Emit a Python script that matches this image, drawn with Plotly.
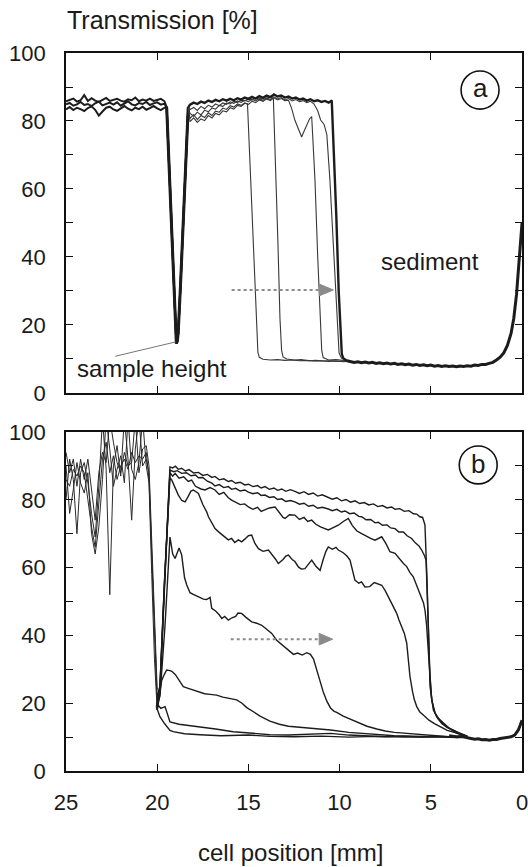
import plotly.graph_objects as go

# ---------------- Panel (a) data ----------------
PA_PLATEAU_X = [25.0, 24.8, 24.6, 24.4, 24.2, 24.0, 23.8, 23.6, 23.4, 23.2, 23.0, 22.8, 22.6, 22.4,
                22.2, 22.0, 21.8, 21.6, 21.4, 21.2, 21.0, 20.8, 20.6, 20.4, 20.2, 20.0, 19.8, 19.6]
PA_PLATEAU_1 = [83.4, 84.1, 83.2, 83.9, 83.5, 82.9, 83.8, 84.3, 83.3, 81.6, 82.8, 83.9, 84.2, 83.4,
                83.0, 83.8, 84.4, 83.6, 83.1, 83.9, 83.5, 84.2, 83.3, 83.8, 84.4, 83.7, 83.2, 83.9]
PA_PLATEAU_2 = [84.9, 85.3, 84.5, 84.9, 85.6, 84.7, 85.0, 84.4, 85.2, 85.7, 84.6, 84.9, 85.4, 84.8,
                85.5, 84.5, 85.1, 85.8, 84.9, 84.6, 85.3, 85.0, 85.6, 84.7, 85.2, 85.5, 84.8, 85.1]
PA_PLATEAU_3 = [85.8, 86.2, 86.6, 85.7, 86.1, 87.6, 85.9, 86.7, 86.0, 85.6, 86.3, 86.8, 85.9, 86.2,
                86.5, 86.0, 85.7, 86.4, 86.1, 86.9, 85.8, 86.3, 86.0, 86.6, 85.9, 86.2, 86.5, 85.8]
PA_DIP_X = [19.48, 19.3, 19.15, 19.02, 18.95, 18.9, 18.85, 18.72, 18.55, 18.4, 18.3]
PA_DIP_Y = [84.0, 61.0, 41.0, 22.0, 14.6, 15.2, 17.5, 32.0, 52.0, 70.0, 84.0]

PA_A_X = [18.3, 18.2, 18.0, 17.8, 17.6, 17.4, 17.2, 17.0, 16.8, 16.6, 16.4, 16.2, 16.0, 15.8, 15.6, 15.4, 15.2,
          15.05, 14.9, 14.78, 14.66, 14.55, 14.48, 14.4, 14.2, 13.8, 13.4, 13.0, 12.6, 12.2, 11.8, 11.4,
          11.0, 10.6, 10.2, 9.8, 9.6]
PA_A_Y = [84.0, 80.8, 81.9, 80.4, 81.6, 81.0, 82.4, 81.6, 82.9, 82.6, 83.8, 83.4, 84.5, 84.1, 85.0, 84.6, 85.3,
          85.0, 66.0, 50.0, 33.0, 18.0, 12.0, 10.5, 9.9, 9.7, 9.8, 9.6, 9.7, 9.5, 9.6, 9.4,
          9.5, 9.3, 9.4, 9.2, 9.3]

PA_B_X = [18.3, 18.2, 18.0, 17.8, 17.6, 17.4, 17.2, 17.0, 16.8, 16.6, 16.4, 16.2, 16.0, 15.8, 15.6, 15.4, 15.2,
          15.0, 14.8, 14.6, 14.4, 14.2, 14.0, 13.8,
          13.63, 13.5, 13.38, 13.27, 13.18, 13.1, 12.9, 12.5, 12.1, 11.7, 11.3, 10.9, 10.5, 10.1, 9.6]
PA_B_Y = [84.0, 82.2, 81.4, 82.6, 81.8, 83.2, 82.7, 83.8, 83.5, 84.6, 84.3, 85.3, 85.0, 85.8, 85.4, 86.2, 85.9,
          86.5, 86.1, 86.8, 86.3, 87.0, 86.6, 87.2,
          86.5, 66.0, 44.0, 22.0, 12.5, 10.6, 10.0, 9.7, 9.8, 9.5, 9.6, 9.4, 9.5, 9.3, 9.4]

PA_C_X = [18.3, 18.2, 18.0, 17.8, 17.6, 17.4, 17.2, 17.0, 16.8, 16.6, 16.4, 16.2, 16.0, 15.8, 15.6, 15.4, 15.2,
          15.0, 14.8, 14.6, 14.4, 14.2, 14.0, 13.8, 13.6, 13.4, 13.2, 13.0, 12.8,
          12.63, 12.45, 12.3, 12.15, 12.08, 11.95, 11.8, 11.65, 11.53, 11.35, 11.2, 11.07, 10.98, 10.9,
          10.6, 10.2, 9.8, 9.6]
PA_C_Y = [84.0, 79.8, 80.9, 79.6, 80.6, 80.1, 81.6, 80.9, 82.2, 81.8, 83.0, 82.7, 83.9, 83.5, 84.6, 84.3, 85.2,
          84.9, 85.8, 85.4, 86.2, 85.8, 86.5, 86.0, 86.8, 86.2, 86.6, 86.0, 86.1,
          83.7, 80.2, 78.0, 76.0, 75.3, 77.0, 79.0, 80.6, 81.3, 62.6, 40.0, 22.0, 12.5, 10.4,
          9.7, 9.8, 9.5, 9.5]

PA_D_X = [18.3, 18.2, 18.0, 17.8, 17.6, 17.4, 17.2, 17.0, 16.8, 16.6, 16.4, 16.2, 16.0, 15.8, 15.6, 15.4, 15.2,
          15.0, 14.8, 14.6, 14.4, 14.2, 14.0, 13.8, 13.6, 13.4, 13.2, 13.0, 12.8, 12.6, 12.4, 12.2, 12.0,
          11.8, 11.6, 11.4,
          11.2, 11.04, 10.85, 10.7, 10.53, 10.35, 10.2, 10.1, 10.03, 9.9, 9.6]
PA_D_Y = [84.0, 83.4, 84.0, 83.1, 84.3, 83.6, 84.6, 84.1, 85.0, 84.5, 85.3, 84.9, 85.6, 85.2, 85.9, 85.5, 86.1,
          85.7, 86.4, 85.9, 86.6, 86.1, 86.8, 86.3, 87.1, 86.5, 86.9, 86.2, 86.6, 85.9, 86.3, 85.7, 86.0,
          85.4, 85.8, 85.0,
          83.0, 80.3, 79.0, 76.0, 62.6, 44.0, 26.0, 15.5, 11.8, 10.3, 9.6]

PA_E_X = [18.3, 18.2, 18.0, 17.8, 17.6, 17.4, 17.2, 17.0, 16.8, 16.6, 16.4, 16.2, 16.0, 15.8, 15.6, 15.4, 15.2,
          15.0, 14.8, 14.6, 14.4, 14.2, 14.0, 13.8, 13.6, 13.4, 13.2, 13.0, 12.8, 12.6, 12.4, 12.2, 12.0,
          11.8, 11.6, 11.4, 11.2, 11.0, 10.8, 10.6,
          10.43, 10.3, 10.18, 10.05, 9.95, 9.88, 9.8, 9.6]
PA_E_Y = [84.0, 84.8, 85.4, 85.0, 85.7, 85.3, 86.0, 85.6, 86.2, 85.8, 86.4, 86.0, 86.5, 86.1, 86.7, 86.3, 86.9,
          86.5, 87.1, 86.6, 87.3, 86.8, 87.5, 87.0, 87.8, 87.2, 87.5, 86.9, 87.2, 86.6, 86.9, 86.3, 86.6,
          86.0, 86.4, 85.8, 86.1, 85.6, 85.9, 85.4,
          86.0, 70.0, 52.0, 30.0, 16.0, 11.5, 10.2, 9.5]

PA_BASE_X = [9.6, 9.4, 9.2, 9.0, 8.8, 8.6, 8.4, 8.2, 8.0, 7.8, 7.6, 7.4, 7.2, 7.0, 6.8, 6.6, 6.4, 6.2, 6.0,
             5.8, 5.6, 5.4, 5.2, 5.0, 4.8, 4.6, 4.4, 4.2, 4.0, 3.8, 3.6, 3.4, 3.2, 3.0, 2.8, 2.6, 2.4, 2.2,
             2.0, 1.8, 1.6, 1.4, 1.2, 1.0, 0.8, 0.6, 0.45, 0.3, 0.2, 0.1, 0.0]
PA_BASE_Y = [9.5, 9.2, 9.0, 9.2, 8.9, 9.1, 8.8, 9.0, 8.7, 8.9, 8.6, 8.8, 8.5, 8.7, 8.4, 8.6, 8.3, 8.5, 8.2,
             8.4, 8.1, 8.3, 8.0, 8.2, 7.9, 8.1, 7.8, 8.0, 7.8, 7.9, 7.7, 7.9, 7.8, 8.0, 7.9, 8.2, 8.1, 8.4,
             8.4, 8.7, 9.0, 9.7, 10.5, 11.8, 14.0, 17.5, 22.0, 29.0, 36.0, 43.0, 50.0]

# ---------------- Panel (b) data ----------------
PB_BUNDLE_X = [25.0, 24.8, 24.6, 24.4, 24.2, 24.0, 23.8, 23.6, 23.4, 23.2, 23.0, 22.8, 22.6, 22.4,
               22.2, 22.0, 21.8, 21.6, 21.4, 21.2, 21.0, 20.8, 20.6, 20.45, 20.3, 20.15, 20.0]
PB_BUNDLE_1 = [86, 84, 89, 87, 90, 88, 80, 72, 66, 78, 92, 97, 88, 93, 86, 90, 92, 89, 94, 91, 93, 92, 94, 86, 62, 38, 19]
PB_BUNDLE_2 = [80, 92, 86, 70, 88, 91, 85, 76, 69, 84, 104, 89, 52, 90, 96, 87, 104, 92, 74, 95, 104, 90, 92, 88, 64, 40, 22]
PB_BUNDLE_3 = [90, 76, 83, 91, 85, 82, 88, 70, 64, 72, 86, 104, 95, 84, 89, 93, 85, 104, 89, 86, 91, 104, 90, 85, 58, 33, 18]
PB_BUNDLE_4 = [94, 88, 92, 84, 92, 86, 92, 82, 74, 88, 94, 91, 104, 97, 91, 88, 94, 90, 91, 104, 88, 95, 96, 90, 66, 42, 24]

PB_C1_X = [20.0, 19.85, 19.6, 19.4, 19.3, 19.15, 19.0, 18.85, 18.66, 18.45, 18.25, 18.0, 17.74, 17.5, 17.25,
           17.0, 16.83, 16.6, 16.35, 16.1, 15.92, 15.7, 15.45, 15.2, 15.0, 14.75, 14.5, 14.3, 14.09, 13.85,
           13.6, 13.4, 13.17, 12.95, 12.7, 12.45, 12.2, 11.95, 11.7, 11.45, 11.2, 10.95, 10.62, 10.4, 10.15,
           9.9, 9.65, 9.4, 9.15, 8.9, 8.65, 8.4, 8.15, 7.9, 7.65, 7.4, 7.15, 6.96, 6.7, 6.45, 6.2, 5.95,
           5.77, 5.6, 5.45, 5.38, 5.32, 5.22, 5.14, 5.05, 4.95, 4.77, 4.55, 4.31, 4.0, 3.58, 3.3, 3.0]
PB_C1_Y = [20, 24, 55, 80, 89.7, 89.4, 89.9, 89.0, 89.3, 88.5, 88.9, 87.9, 88.1, 87.2, 87.5,
           86.6, 86.9, 85.9, 86.2, 85.4, 85.7, 84.9, 85.2, 84.4, 84.6, 83.9, 84.2, 83.5, 83.9, 83.1,
           83.5, 82.8, 83.2, 82.5, 83.0, 82.5, 81.9, 82.4, 81.6, 82.0, 81.1, 81.5, 80.7, 80.2, 80.6,
           79.7, 80.1, 79.3, 79.7, 78.9, 79.2, 78.5, 78.8, 78.0, 78.3, 77.6, 77.9, 77.2, 77.4, 76.6, 76.8, 75.9,
           75.8, 75.0, 74.8, 73.8, 72.6, 58.0, 40.6, 28.0, 21.0, 17.1, 15.4, 14.1, 12.6, 11.2, 10.6, 10.1]

PB_C2_X = [20.0, 19.85, 19.6, 19.4, 19.3, 19.1, 18.9, 18.66, 18.4, 18.15, 17.9, 17.74, 17.5, 17.25, 17.0,
           16.83, 16.6, 16.35, 16.1, 15.92, 15.7, 15.45, 15.2, 15.0, 14.75, 14.5, 14.3, 14.09, 13.85, 13.6,
           13.4, 13.17, 12.95, 12.7, 12.45, 12.2, 11.95, 11.7, 11.45, 11.2, 10.95, 10.62, 10.4, 10.15, 9.9,
           9.7, 9.45, 9.2, 8.95, 8.79, 8.55, 8.3, 8.05, 7.88, 7.65, 7.4, 7.2, 6.96, 6.75, 6.5, 6.3, 6.05,
           5.85, 5.65, 5.5, 5.35, 5.26, 5.15, 5.04, 4.86, 4.6, 4.35, 4.13, 3.8, 3.4, 3.0]
PB_C2_Y = [18, 23, 54, 79, 88.8, 88.3, 88.6, 87.8, 88.0, 87.1, 87.3, 86.5, 86.6, 85.5, 84.9,
           84.1, 84.5, 83.6, 83.9, 83.1, 83.4, 82.6, 82.9, 82.3, 81.8, 82.1, 81.3, 81.4, 80.7, 80.9,
           80.1, 80.3, 79.5, 79.8, 79.4, 78.7, 79.0, 78.1, 78.4, 77.5, 77.8, 77.3, 76.8, 77.2, 76.4,
           76.7, 75.9, 76.1, 75.1, 75.0, 74.1, 74.2, 73.2, 73.4, 72.5, 72.6, 71.7, 71.5, 70.5, 70.5, 69.4, 68.6,
           67.3, 66.4, 65.2, 63.6, 62.2, 45.0, 24.9, 18.0, 15.4, 14.0, 13.1, 12.0, 11.2, 10.3]

PB_C3_X = [20.0, 19.85, 19.6, 19.4, 19.3, 19.15, 19.02, 18.8, 18.55, 18.3, 18.11, 17.9, 17.6, 17.38, 17.1,
           16.83, 16.6, 16.35, 16.1, 15.92, 15.7, 15.45, 15.2, 15.0, 14.75, 14.5, 14.3, 14.09, 13.85, 13.54,
           13.3, 13.1, 12.99, 12.75, 12.45, 12.2, 11.95, 11.75, 11.53, 11.3, 11.05, 10.85, 10.62, 10.35, 10.07,
           9.8, 9.52, 9.3, 9.05, 8.79, 8.55, 8.3, 8.06, 7.85, 7.69, 7.45, 7.24, 6.96, 6.7, 6.5, 6.32, 6.15,
           5.96, 5.75, 5.5, 5.4, 5.32, 5.23, 5.14, 5.05, 4.95, 4.8, 4.68, 4.4, 4.1, 3.77, 3.4, 3.0]
PB_C3_Y = [21, 25, 56, 80, 88.0, 87.0, 87.8, 86.4, 86.8, 85.4, 85.8, 84.0, 83.2, 82.9, 83.6,
           82.9, 81.6, 82.2, 80.6, 79.9, 79.2, 78.6, 78.8, 77.9, 77.2, 77.8, 76.6, 77.0, 77.6, 77.9,
           76.0, 74.8, 74.5, 75.6, 75.5, 74.2, 74.8, 73.6, 74.0, 72.8, 72.0, 71.6, 71.1, 71.8, 72.5,
           73.6, 74.5, 72.4, 70.8, 70.0, 69.2, 68.6, 68.1, 68.8, 69.1, 67.0, 64.7, 64.2, 62.4, 61.2, 60.3, 58.6,
           57.3, 54.6, 51.4, 49.6, 47.5, 43.0, 35.7, 27.0, 21.0, 17.6, 16.0, 14.0, 12.8, 12.1, 11.0, 10.2]

PB_C4_X = [20.0, 19.85, 19.6, 19.4, 19.3, 19.2, 19.0, 18.84, 18.65, 18.47, 18.3, 18.15, 18.02, 17.88, 17.74,
           17.5, 17.3, 17.19, 17.0, 16.83, 16.6, 16.45, 16.28, 16.1, 15.92, 15.75, 15.55, 15.37, 15.2, 15.0,
           14.82, 14.65, 14.45, 14.2, 13.9, 13.65, 13.5, 13.36, 13.1, 12.95, 12.81, 12.6, 12.45, 12.26, 12.1,
           11.9, 11.7, 11.53, 11.3, 11.07, 10.9, 10.75, 10.62, 10.4, 10.2, 10.07, 9.8, 9.6, 9.43, 9.3, 9.16,
           8.95, 8.8, 8.61, 8.35, 8.1, 7.9, 7.69, 7.5, 7.33, 7.15, 6.96, 6.87, 6.75, 6.6, 6.45, 6.32, 6.22,
           6.14, 6.0, 5.9, 5.77, 5.6, 5.41, 5.1, 4.8, 4.5, 4.1, 3.58, 3.0]
PB_C4_Y = [22, 25, 56, 78, 86.5, 85.8, 83.4, 81.4, 79.8, 79.4, 81.0, 82.6, 82.9, 82.4, 81.9,
           78.6, 76.6, 75.0, 73.0, 71.5, 70.4, 69.8, 69.1, 68.2, 68.6, 67.4, 68.2, 67.6, 68.4, 69.4,
           69.6, 67.2, 65.6, 64.8, 65.2, 63.6, 62.4, 61.2, 62.4, 63.4, 63.7, 62.4, 61.8, 60.2, 59.6,
           59.7, 61.2, 62.2, 60.4, 59.2, 62.4, 64.8, 66.1, 65.4, 66.0, 65.2, 64.4, 63.4, 62.2, 59.4, 56.3,
           55.4, 55.8, 54.3, 54.4, 55.6, 55.2, 54.8, 53.2, 51.4, 49.6, 47.5, 46.5, 44.6, 42.5, 40.6, 37.7, 32.6,
           27.8, 23.4, 21.0, 19.0, 17.4, 16.5, 15.0, 14.0, 13.1, 12.0, 11.2, 10.2]

PB_C5_X = [20.05, 19.85, 19.57, 19.4, 19.3, 19.15, 19.02, 18.9, 18.8, 18.66, 18.5, 18.38, 18.2, 18.02, 17.85,
           17.65, 17.47, 17.29, 17.1, 17.01, 16.8, 16.6, 16.46, 16.3, 16.1, 15.9, 15.7, 15.57, 15.37, 15.15,
           14.92, 14.82, 14.55, 14.27, 14.0, 13.72, 13.45, 13.27, 13.0, 12.75, 12.53, 12.3, 12.05, 11.8, 11.6,
           11.43, 11.25, 11.05, 10.89, 10.7, 10.5, 10.3, 10.16, 9.8, 9.42, 9.0, 8.5, 7.96, 7.5, 7.0, 6.13,
           5.5, 4.8, 4.0, 3.5]
PB_C5_Y = [19, 22, 43, 60, 69.0, 64.0, 62.7, 64.4, 65.8, 63.8, 57.0, 54.9, 52.6, 52.1, 51.6,
           51.2, 50.7, 50.6, 51.2, 48.0, 47.2, 46.1, 45.0, 45.6, 44.5, 45.2, 45.6, 46.6, 46.5, 45.4,
           44.5, 44.0, 43.6, 43.0, 41.8, 40.6, 38.6, 37.8, 36.6, 35.4, 34.4, 34.8, 34.2, 34.9, 34.4,
           33.0, 29.8, 25.6, 23.2, 20.6, 18.6, 17.6, 17.3, 16.2, 15.3, 14.2, 13.2, 12.4, 11.8, 11.4, 11.0,
           10.6, 10.3, 10.1, 10.0]

PB_C6_X = [20.0, 19.9, 19.75, 19.6, 19.48, 19.3, 19.2, 19.0, 18.8, 18.57, 18.3, 18.02, 17.7, 17.4, 17.1,
           16.74, 16.4, 16.0, 15.64, 15.35, 15.09, 14.7, 14.36, 13.82, 13.3, 12.8, 12.3, 11.5, 10.5, 9.5,
           8.5, 7.76, 7.0, 6.0, 5.0, 4.0, 3.5]
PB_C6_Y = [18, 22, 26.8, 28.6, 29.8, 29.6, 29.4, 28.4, 26.6, 24.9, 24.4, 23.9, 23.2, 22.8, 22.6,
           22.4, 21.8, 21.4, 21.0, 20.0, 18.7, 17.4, 16.2, 14.7, 13.8, 13.2, 13.0, 12.5, 12.1, 11.4,
           11.0, 10.6, 10.4, 10.3, 10.1, 9.9, 10.0]

PB_C7_X = [20.05, 19.8, 19.57, 19.3, 18.8, 18.2, 17.65, 16.8, 15.83, 14.8, 13.82, 12.8, 11.8, 10.5, 9.5,
           8.5, 7.5, 6.5, 5.5, 4.5, 3.5]
PB_C7_Y = [20, 18.5, 19.0, 14.5, 13.8, 13.4, 13.1, 12.4, 11.6, 11.1, 10.7, 10.6, 10.8, 11.1, 10.6,
           10.4, 10.1, 10.3, 10.0, 10.2, 10.0]

PB_C8_X = [20.05, 19.85, 19.6, 19.3, 19.12, 18.5, 17.65, 16.5, 15.0, 13.82, 12.5, 11.0, 9.5, 8.0, 6.5, 5.0, 3.5]
PB_C8_Y = [19, 16, 14, 12, 11.6, 11.0, 10.7, 10.4, 10.6, 10.2, 10.1, 10.3, 10.0, 10.2, 10.0, 10.1, 9.9]

PB_TAIL_X = [4.0, 3.6, 3.3, 3.0, 2.8, 2.6, 2.4, 2.2, 2.0, 1.8, 1.6, 1.4, 1.2, 1.0, 0.8, 0.6, 0.4, 0.2, 0.1, 0.0]
PB_TAIL_Y = [10.4, 10.1, 10.2, 9.8, 9.7, 9.4, 9.5, 9.2, 9.3, 9.1, 9.3, 9.3, 9.6, 9.7, 10.0, 10.1, 10.6, 12.1, 13.5, 15.0]

X_TICKS = [25, 20, 15, 10, 5, 0]
Y_TICKS = [0, 10, 20, 30, 40, 50, 60, 70, 80, 90, 100]
Y_TICKTEXT = ["0", "", "20", "", "40", "", "60", "", "80", "", "100"]

FONT = "Arial, 'Liberation Sans', sans-serif"
DARK = "#1c1c1c"
THIN = "#383838"

fig = go.Figure()


def add(x, y, xa, ya, width, color):
    fig.add_trace(go.Scatter(x=x, y=y, mode="lines", xaxis=xa, yaxis=ya,
                             line=dict(color=color, width=width), showlegend=False,
                             hoverinfo="skip"))


# panel a
for p in [PA_PLATEAU_1, PA_PLATEAU_2, PA_PLATEAU_3]:
    add(PA_PLATEAU_X + PA_DIP_X, p + PA_DIP_Y, "x", "y", 2, DARK)
add(PA_DIP_X, PA_DIP_Y, "x", "y", 3, DARK)
add(PA_A_X, PA_A_Y, "x", "y", 1.1, THIN)
add(PA_B_X, PA_B_Y, "x", "y", 1.1, THIN)
add(PA_C_X, PA_C_Y, "x", "y", 1.1, THIN)
add(PA_D_X, PA_D_Y, "x", "y", 1.1, THIN)
add(PA_E_X, PA_E_Y, "x", "y", 2.4, DARK)
add(PA_BASE_X, PA_BASE_Y, "x", "y", 3, DARK)

# panel b
for b in [PB_BUNDLE_1, PB_BUNDLE_2, PB_BUNDLE_3, PB_BUNDLE_4]:
    add(PB_BUNDLE_X, b, "x2", "y2", 1, "#2a2a2a")
for cx, cy in [(PB_C1_X, PB_C1_Y), (PB_C2_X, PB_C2_Y), (PB_C3_X, PB_C3_Y), (PB_C4_X, PB_C4_Y),
               (PB_C5_X, PB_C5_Y), (PB_C6_X, PB_C6_Y), (PB_C7_X, PB_C7_Y), (PB_C8_X, PB_C8_Y)]:
    add(cx, cy, "x2", "y2", 1.4, DARK)
add(PB_TAIL_X, PB_TAIL_Y, "x2", "y2", 3, DARK)

axis_common = dict(showline=True, linecolor="#111", linewidth=1.6, mirror="ticks", ticks="inside",
                   ticklen=7, tickwidth=1.4, tickcolor="#111", showgrid=False, zeroline=False,
                   automargin=False, ticklabeloverflow="allow",
                   tickfont=dict(family=FONT, size=22, color="#1a1a1a"))

fig.update_layout(
    width=528, height=867,
    margin=dict(l=66, r=6, t=53, b=96),
    paper_bgcolor="white", plot_bgcolor="white",
    xaxis=dict(domain=[0, 1], anchor="y", range=[25, 0], tickvals=X_TICKS,
               showticklabels=False, **axis_common),
    yaxis=dict(domain=[0.5265, 1], anchor="x", range=[0, 100], tickvals=Y_TICKS,
               ticktext=Y_TICKTEXT, ticklabelstandoff=14, **axis_common),
    xaxis2=dict(domain=[0, 1], anchor="y2", range=[25, 0], tickvals=X_TICKS,
                ticktext=[str(v) for v in X_TICKS], ticklabelstandoff=11, **axis_common),
    yaxis2=dict(domain=[0, 0.4721], anchor="x2", range=[0, 100], tickvals=Y_TICKS,
                ticktext=Y_TICKTEXT, ticklabelstandoff=14, **axis_common),
)

ann_font = dict(family=FONT, size=24, color="#1a1a1a")
fig.add_annotation(text="Transmission [%]", xref="paper", yref="paper", x=-0.002, y=1.046,
                   xanchor="left", yanchor="middle", showarrow=False,
                   font=dict(family=FONT, size=25, color="#1a1a1a"))
fig.add_annotation(text="cell position [mm]", xref="paper", yref="paper", x=0.493, y=-0.113,
                   xanchor="center", yanchor="middle", showarrow=False,
                   font=dict(family=FONT, size=24, color="#1a1a1a"))
fig.add_annotation(text="sample height", xref="x", yref="y", x=20.29, y=7.3,
                   xanchor="center", yanchor="middle", showarrow=False, font=ann_font)
fig.add_annotation(text="sediment", xref="x", yref="y", x=5.04, y=38.6,
                   xanchor="center", yanchor="middle", showarrow=False, font=ann_font)
fig.add_annotation(text="a", xref="x", yref="y", x=2.3, y=89.6,
                   xanchor="center", yanchor="middle", showarrow=False,
                   font=dict(family=FONT, size=26, color="#1a1a1a"))
fig.add_annotation(text="b", xref="x2", yref="y2", x=2.4, y=90.6,
                   xanchor="center", yanchor="middle", showarrow=False,
                   font=dict(family=FONT, size=26, color="#1a1a1a"))

# circles around panel letters
fig.add_shape(type="circle", xref="x", yref="y", x0=3.34, x1=1.26, y0=83.5, y1=94.7,
              line=dict(color="#111", width=1.6))
fig.add_shape(type="circle", xref="x2", yref="y2", x0=3.44, x1=1.36, y0=84.7, y1=95.9,
              line=dict(color="#111", width=1.6))

# leader line for "sample height"
fig.add_shape(type="line", xref="x", yref="y", x0=22.3, y0=10.8, x1=19.0, y1=15.0,
              line=dict(color="#777", width=1))

# dotted arrows
GREY = "#8a8a8a"
fig.add_shape(type="line", xref="x", yref="y", x0=15.92, y0=30.3, x1=11.1, y1=30.3,
              line=dict(color=GREY, width=2, dash="dot"))
fig.add_shape(type="path", xref="x", yref="y", path="M 11.1 32.0 L 10.34 30.3 L 11.1 28.6 Z",
              fillcolor=GREY, line=dict(color=GREY, width=1))
fig.add_shape(type="line", xref="x2", yref="y2", x0=15.97, y0=38.9, x1=11.12, y1=38.9,
              line=dict(color=GREY, width=2, dash="dot"))
fig.add_shape(type="path", xref="x2", yref="y2", path="M 11.12 40.6 L 10.38 38.9 L 11.12 37.2 Z",
              fillcolor=GREY, line=dict(color=GREY, width=1))

fig.write_html("out.html", config={"displayModeBar": False},
               post_script="document.body.style.margin='0px';document.body.style.padding='0px';")
